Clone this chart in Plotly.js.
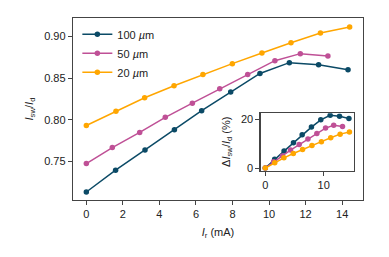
<!DOCTYPE html>
<html><head><meta charset="utf-8">
<script src="https://cdn.plot.ly/plotly-3.0.1.min.js"></script>
<style>html,body{margin:0;padding:0;background:#fff}#c{width:389px;height:257px}</style>
</head><body><div id="c"></div>
<script>
// Main panel data: I_r (mA) vs I_sw/I_d
const x100 = [0, 1.6, 3.21, 4.82, 6.31, 7.9, 9.5, 11.11, 12.71, 14.32];
const y100 = [0.7136, 0.7397, 0.764, 0.788, 0.811, 0.8333, 0.8556, 0.8685, 0.866, 0.860];
const x50 = [0, 1.42, 2.92, 4.32, 5.8, 7.3, 8.83, 10.32, 11.71, 13.22];
const y50 = [0.7476, 0.7668, 0.785, 0.803, 0.820, 0.8372, 0.8544, 0.8709, 0.8793, 0.8764];
const x20 = [0, 1.62, 3.19, 4.8, 6.38, 7.99, 9.61, 11.2, 12.81, 14.41];
const y20 = [0.7932, 0.8104, 0.8264, 0.8409, 0.8544, 0.8673, 0.880, 0.8924, 0.904, 0.9112];
// Inset data: ΔI_sw/I_d (%)
const d100 = [0, 3.6, 7.0, 10.4, 13.7, 16.9, 19.9, 21.8, 21.4, 20.5];
const d50 = [0, 2.6, 5.0, 7.4, 9.7, 12.0, 14.3, 16.5, 17.7, 17.2];
const d20 = [0, 2.2, 4.2, 6.0, 7.7, 9.3, 10.9, 12.5, 14.0, 14.9];
const names = ['100 <i>µ</i>m', '50 <i>µ</i>m', '20 <i>µ</i>m'];
const colors = ['#0b4a66', '#bf5096', '#ffa600'];

const xs = [x100, x50, x20], ys = [y100, y50, y20], ds = [d100, d50, d20];
const traces = [];
for (let i = 0; i < 3; i++) {
  traces.push({x: xs[i], y: ys[i], name: names[i], type: 'scatter', mode: 'lines+markers',
    line: {color: colors[i], width: 1.5}, marker: {color: colors[i], size: 5.5},
    xaxis: 'x', yaxis: 'y'});
}
for (let i = 0; i < 3; i++) {
  traces.push({x: xs[i], y: ds[i], name: names[i], type: 'scatter', mode: 'lines+markers',
    showlegend: false,
    line: {color: colors[i], width: 1.5}, marker: {color: colors[i], size: 5.5},
    xaxis: 'x2', yaxis: 'y2'});
}
const font = {family: 'Liberation Sans, Arial, sans-serif', size: 11, color: '#222'};
const ax = {showline: true, mirror: true, linecolor: '#444', linewidth: 1.2, ticks: 'outside',
  ticklen: 4, tickcolor: '#444', showgrid: false, zeroline: false, tickfont: font, automargin: false};
const layout = {
  width: 389, height: 257, margin: {l: 73, r: 26, t: 18, b: 57},
  paper_bgcolor: '#fff', plot_bgcolor: '#fff', font: font, showlegend: true,
  legend: {x: 0.015, y: 0.99, xanchor: 'left', yanchor: 'top', bgcolor: 'rgba(0,0,0,0)',
    font: font, tracegroupgap: 0, itemwidth: 30},
  xaxis: Object.assign({}, ax, {range: [-0.73, 15.14], tickvals: [0, 2, 4, 6, 8, 10, 12, 14],
    title: {text: '<i>I</i><sub>r</sub> (mA)', font: font, standoff: 8}}),
  yaxis: Object.assign({}, ax, {range: [0.704, 0.922], tickvals: [0.75, 0.80, 0.85, 0.90],
    tickformat: '.2f',
    title: {text: '<i>I</i><sub>sw</sub>/<i>I</i><sub>d</sub>', font: font, standoff: 8}}),
  xaxis2: Object.assign({}, ax, {domain: [0.647, 0.968], anchor: 'y2', range: [-0.8, 15.14],
    tickvals: [0, 10]}),
  yaxis2: Object.assign({}, ax, {domain: [0.161, 0.477], anchor: 'x2', range: [-1.1, 22.65],
    tickvals: [0, 20]}),
  annotations: [{
    text: 'Δ<i>I</i><sub>sw</sub>/<i>I</i><sub>d</sub> (%)', font: font, textangle: -90,
    xref: 'paper', yref: 'paper', x: 0.531, y: 0.319, xanchor: 'center', yanchor: 'middle',
    showarrow: false
  }]
};
Plotly.newPlot('c', traces, layout, {displayModeBar: false, staticPlot: true});
</script></body></html>
